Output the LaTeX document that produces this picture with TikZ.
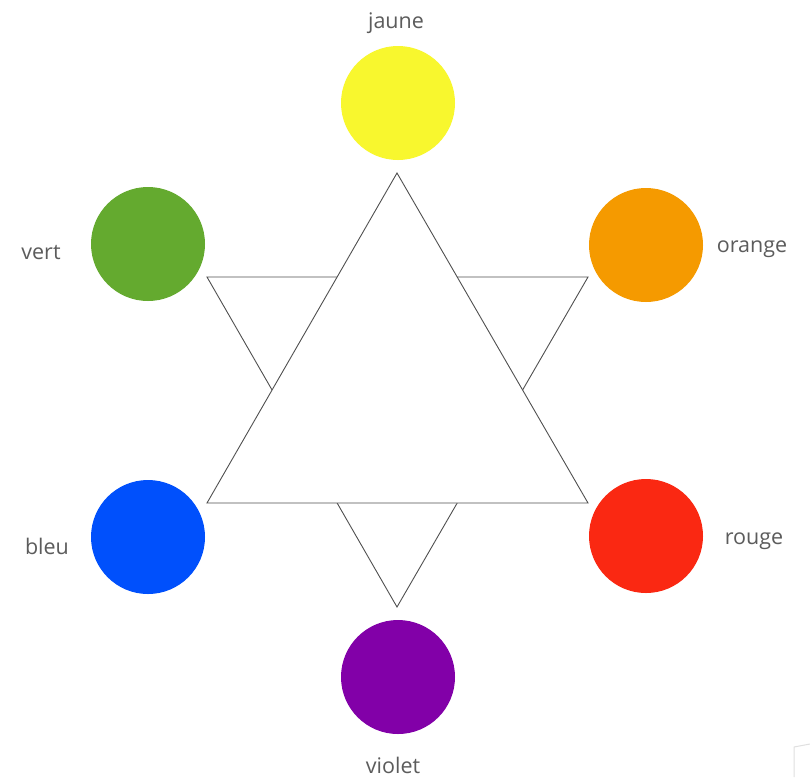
\documentclass[tikz,border=0pt]{standalone}
\usepackage{fontspec}
\setmainfont{Open Sans}
\definecolor{cjaune}{HTML}{F8F72E}
\definecolor{cvert}{HTML}{64AA2F}
\definecolor{corange}{HTML}{F59A00}
\definecolor{cbleu}{HTML}{0050FC}
\definecolor{crouge}{HTML}{FA2812}
\definecolor{cviolet}{HTML}{8200A8}
\definecolor{ctext}{HTML}{5C5C5C}
\definecolor{cline}{HTML}{505050}
\begin{document}
\begin{tikzpicture}[x=1pt,y=-1pt,
  dot/.style={circle,minimum size=114pt,inner sep=0pt},
  lab/.style={text=ctext,font=\fontsize{21.5}{24}\selectfont,inner sep=0pt},
  tri/.style={draw=cline,line width=0.9pt,fill=white,line join=miter}]
\useasboundingbox (0,0) rectangle (810,777);
\fill[white] (0,0) rectangle (810,777);
% star: inverted triangle first, upward on top
\coordinate (d1) at (207,277);
\coordinate (d2) at (588,277);
\coordinate (d3) at (397,607);
\coordinate (u1) at (397,173);
\coordinate (u2) at (588,503);
\coordinate (u3) at (207,503);
\draw[tri] (d1) -- (d2) -- (d3) -- cycle;
\draw[tri] (u1) -- (u2) -- (u3) -- cycle;
% circles
\node[dot,fill=cjaune] (jaune) at (398,103) {};
\node[dot,fill=cvert] (vert) at (148,244) {};
\node[dot,fill=corange] (orange) at (646,245) {};
\node[dot,fill=cbleu] (bleu) at (148,537) {};
\node[dot,fill=crouge] (rouge) at (646,536) {};
\node[dot,fill=cviolet] (violet) at (398,677) {};
% labels
\node[lab] (ljaune) at (396,23) {jaune};
\node[lab] (lvert) at (41,253) {vert};
\node[lab] (lorange) at (752,249) {orange};
\node[lab] (lbleu) at (47,546) {bleu};
\node[lab] (lrouge) at (754,541) {rouge};
\node[lab] (lviolet) at (393,765) {violet};
% faint corner artifact
\draw[black!12,line width=1pt] (794,777) -- (794,747) -- (810,744);
\end{tikzpicture}
\end{document}
